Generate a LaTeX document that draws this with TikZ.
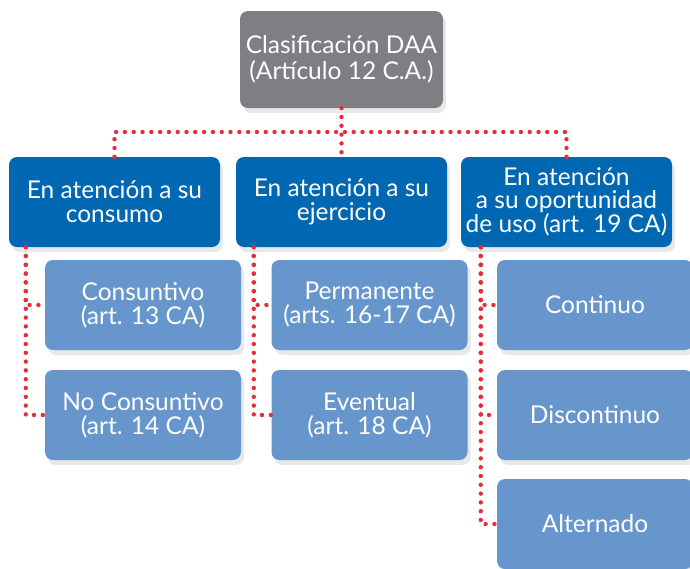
\documentclass[tikz,border=0pt]{standalone}
\usepackage{fontspec}
\setmainfont{Lato}
\usetikzlibrary{shadows,calc,positioning}
\definecolor{daagray}{HTML}{7E7F83}
\definecolor{daablue}{HTML}{0068B3}
\definecolor{daalight}{HTML}{6796CD}
\definecolor{daared}{HTML}{E62E3A}

\begin{document}
\begin{tikzpicture}[x=1pt,y=-1pt,
    box/.style={rectangle,rounded corners=8pt,text=white,align=center,
      inner sep=0pt,font=\fontsize{24.5}{24}\selectfont,
      drop shadow={shadow xshift=3pt,shadow yshift=-5pt,opacity=0.18}},
    topbox/.style={box,fill=daagray,minimum width=203pt,minimum height=97pt,
      font=\fontsize{24.5}{26}\selectfont},
    catbox/.style={box,fill=daablue,minimum width=211pt,minimum height=90pt},
    subbox/.style={box,fill=daalight,minimum width=196pt,minimum height=90pt},
    dotline/.style={draw=daared,line width=4.4pt,line cap=round,
      dash pattern=on 0pt off 8.8pt}]
  \useasboundingbox (0,0) rectangle (690,568);
  % head
  \node[topbox] (clasif) at (341.5,59.5) {Clasificación DAA\\(Artículo 12 C.A.)};
  % categories
  \node[catbox] (consumo)     at (114.5,202) {En atención a su\\consumo};
  \node[catbox] (ejercicio)   at (341.5,202) {En atención a su\\ejercicio};
  \node[catbox, font=\fontsize{24.5}{23}\selectfont] (oportunidad) at (566.5,202)
    {En atención\\a su oportunidad\\de uso (art. 19 CA)};
  % types
  \node[subbox] (consuntivo)   at (143,305) {Consuntivo\\(art. 13 CA)};
  \node[subbox] (noconsuntivo) at (143,415) {No Consuntivo\\(art. 14 CA)};
  \node[subbox] (permanente)   at (369.5,305) {Permanente\\(arts. 16-17 CA)};
  \node[subbox] (eventual)     at (369.5,415) {Eventual\\(art. 18 CA)};
  \node[subbox] (continuo)     at (595,305) {Continuo};
  \node[subbox] (discontinuo)  at (595,415) {Discontinuo};
  \node[subbox] (alternado)    at (595,524) {Alternado};
  % connectors
  \coordinate (bus) at (341.5,132);
  \coordinate (lcol) at ($(consumo.south west)+(17,0)$);
  \coordinate (mcol) at ($(ejercicio.south west)+(18,0)$);
  \coordinate (rcol) at ($(oportunidad.south west)+(20,0)$);
  \draw[dotline] (clasif.south) -- (ejercicio.north);
  \draw[dotline] (consumo.north) |- (bus) -| (oportunidad.north);
  \draw[dotline] (lcol) |- (consuntivo.west);
  \draw[dotline] (lcol) |- (noconsuntivo.west);
  \draw[dotline] (mcol) |- (permanente.west);
  \draw[dotline] (mcol) |- (eventual.west);
  \draw[dotline] (rcol) |- (continuo.west);
  \draw[dotline] (rcol) |- (discontinuo.west);
  \draw[dotline] (rcol) |- (alternado.west);
\end{tikzpicture}
\end{document}
